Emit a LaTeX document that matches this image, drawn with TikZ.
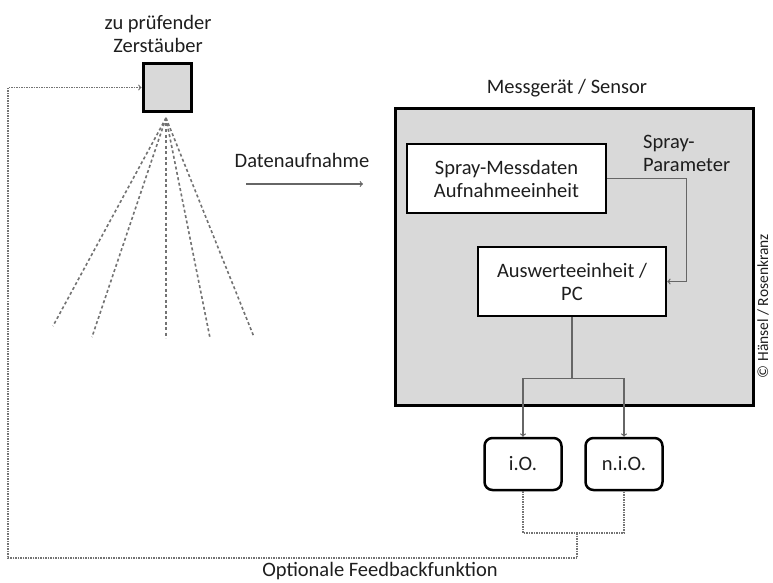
\documentclass[tikz,border=0pt]{standalone}
\usepackage{fontspec}
\setmainfont{Carlito}
\usepackage{xcolor}
\usepackage{tikz}
\definecolor{boxgray}{RGB}{217,217,217}
\definecolor{inkgray}{RGB}{30,30,30}
\tikzset{
  txt/.style={text=inkgray,font=\fontsize{20.5}{23}\selectfont,align=center,inner sep=0pt},
  unitbox/.style={rectangle,draw=black,line width=2.5pt,fill=white,txt},
  resultbox/.style={unitbox,rounded corners=8pt,minimum width=77pt,minimum height=52pt},
  conn/.style={draw=black!60,line width=1.2pt,->},
  spray/.style={draw=black!55,line width=1.6pt,dash pattern=on 3pt off 2.5pt},
  feedback/.style={draw=black!55,line width=1.2pt,dash pattern=on 1.5pt off 1pt}
}

\begin{document}
\begin{tikzpicture}[x=1pt,y=-1pt]
\useasboundingbox (0,0) rectangle (773,583);

% Zerstaeuber
\node at (158,34) [txt] (zlabel) {zu prüfender\\Zerstäuber};
\node at (167,87.5) [rectangle,draw=black,line width=3pt,fill=boxgray,minimum size=48pt] (nozzle) {};
\foreach \ex/\ey in {53/326, 92/337, 166/338, 210/338, 254/337}
  \draw[spray] (166,118) -- (\ex,\ey);

% Datenaufnahme
\node at (302,160) [txt] (dat) {Datenaufnahme};
\coordinate (da1) at (246,184);
\coordinate (da2) at (363,184);
\draw[conn] (da1) -- (da2);

% Messgeraet
\node at (567,88) [txt] (mlabel) {Messgerät / Sensor};
\node at (574.5,257) [rectangle,draw=black,line width=3pt,fill=boxgray,minimum width=358pt,minimum height=297pt] (sensor) {};
\node at (506.5,178.5) [unitbox,minimum width=199pt,minimum height=69pt] (mess) {Spray-Messdaten\\Aufnahmeeinheit};
\node at (572,281.5) [unitbox,minimum width=188pt,minimum height=69pt] (ausw) {Auswerteeinheit /\\PC};
\node at (643,153) [txt,anchor=west,align=left] (plabel) {Spray-\\Parameter};
\draw[conn] (mess.east) -- ++(79,0) |- (ausw.east);

% Ergebnis
\node at (523,464) [resultbox] (io) {i.O.};
\node at (624,464) [resultbox] (nio) {n.i.O.};
\draw[conn,-] (ausw.south) -- ++(0,61) coordinate (br);
\draw[conn] (br) -| (io.north);
\draw[conn] (br) -| (nio.north);

% Feedback
\coordinate (fbj) at (577,533);
\coordinate (fbb) at (577,558);
\coordinate (fbl) at (8,558);
\draw[feedback] (io.south) |- (fbj) -| (nio.south);
\draw[feedback,->] (fbj) -- (fbb) -- (fbl) |- (nozzle.west);
\node at (380,571) [txt] (fblabel) {Optionale Feedbackfunktion};

\node at (763,306) [txt,rotate=90,font=\fontsize{15.5}{18}\selectfont] (copy) {© Hänsel / Rosenkranz};
\end{tikzpicture}
\end{document}
